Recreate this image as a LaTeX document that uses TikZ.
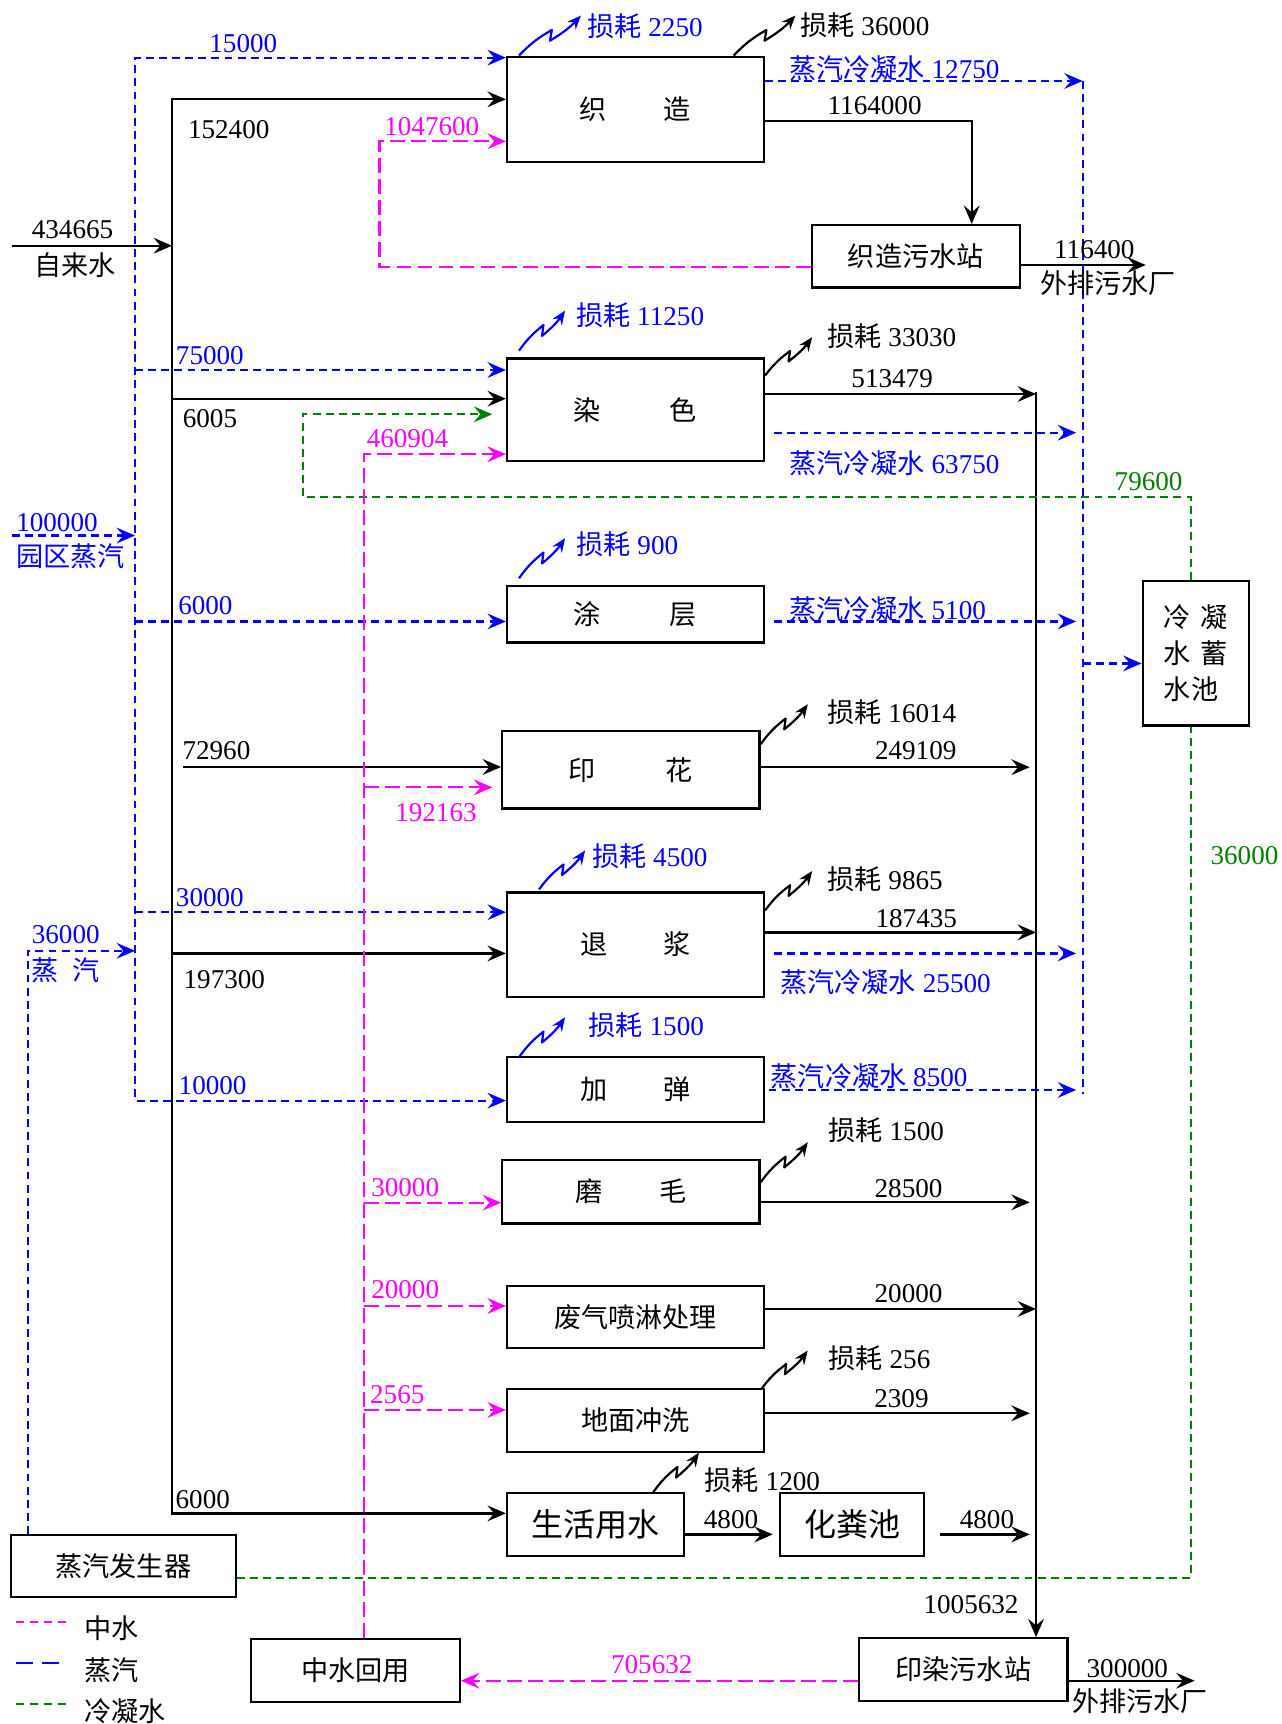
\documentclass[tikz,border=0pt]{standalone}
\usepackage{fontspec}
\setmainfont{Liberation Serif}
\newfontfamily\cjk{Noto Sans CJK SC}
\usetikzlibrary{arrows.meta,calc}

\newcommand{\zh}[1]{{\cjk #1}}
\definecolor{steam}{RGB}{0,0,255}
\definecolor{reuse}{RGB}{255,0,255}
\definecolor{cond}{RGB}{0,128,0}

\tikzset{
  >={Stealth[length=10.5pt,width=9pt,inset=3.8pt]},
  box/.style={draw, line width=1.3pt, inner sep=0pt},
  sz/.style 2 args={minimum width=#1*0.022cm, minimum height=#2*0.022cm},
  lbl/.style={inner sep=0pt},
  flow/.style={line width=1.3pt, ->},
  flowline/.style={line width=1.3pt},
  steamline/.style={steam, line width=1.25pt, dash pattern=on 4.5pt off 3pt},
  reuseline/.style={reuse, line width=1.25pt, dash pattern=on 8.5pt off 3.5pt},
  condline/.style={cond, line width=1.25pt, dash pattern=on 4.5pt off 3pt},
  losstip/.style={line width=1.25pt, line join=round, -{Stealth[length=8pt,width=6.5pt,inset=2.8pt]}},
}

% loss arrow: start, dx, dy, colour
\newcommand{\sunhao}[4]{%
  \draw[losstip, #4] #1 to[bend left=8] ++({0.53*(#2)},{0.64*(#3)}) -- ++({-0.03*(#2)},{-0.27*(#3)}) to[bend right=8] ++({0.5*(#2)},{0.63*(#3)});}

\begin{document}
\begin{tikzpicture}[x=0.022cm, y=-0.022cm, font=\fontsize{15.5pt}{19pt}\selectfont]
\useasboundingbox (0,0) rectangle (1169.7,1573);

% process boxes
\node[box, sz={234.4}{96.4}] (zz) at (579.8,99.9) {\zh{织\hspace{2.1em}造}};
\node[box, sz={189.7}{56.9}] (zzws) at (835.5,233.8) {\zh{织造污水站}\hspace{1em}};
\node[box, sz={234.4}{93.6}] (rs) at (579.8,373.8) {\zh{染\hspace{2.54em}色}};
\node[box, sz={234.4}{51.5}] (tc) at (579.8,560.4) {\zh{涂\hspace{2.54em}层}};
\node[box, sz={234.8}{70.4}] (yh) at (575.6,702.4) {\zh{印\hspace{2.56em}花}};
\node[box, sz={234.4}{95.1}] (tj) at (579.8,861.8) {\zh{退\hspace{2.08em}浆}\hspace{0.7em}};
\node[box, sz={234.4}{59.3}] (jt) at (579.8,993.8) {\zh{加\hspace{2.08em}弹}\hspace{0.7em}};
\node[box, sz={234.8}{57.8}] (mm) at (575.6,1087.3) {\zh{磨\hspace{2.08em}毛}\hspace{0.7em}};
\node[box, sz={234.4}{56.2}] (fq) at (579.8,1201.5) {\zh{废气喷淋处理}\hspace{0.75em}};
\node[box, sz={234.4}{57.2}] (dm) at (579.8,1296.2) {\zh{地面冲洗}\hspace{0.7em}};
\node[box, sz={161.4}{57.2}, font=\fontsize{18.3pt}{22pt}\selectfont] (sh) at (543.3,1391.1) {\zh{生活用水}};
\node[box, sz={131.6}{57.7}, font=\fontsize{18.3pt}{22pt}\selectfont] (hf) at (777.5,1390.9) {\zh{化粪池}};
\node[box, sz={204.8}{56.2}] (qf) at (112.6,1428.7) {\zh{蒸汽发生器}\hspace{0.55em}};
\node[box, sz={190.2}{56.9}] (zshy) at (324.4,1524.2) {\zh{中水回用}\hspace{1em}};
\node[box, sz={190}{57.2}] (ydws) at (879,1523.4) {\zh{印染污水站}\hspace{1em}};
\node[box, sz={97}{132}, align=left, font=\fontsize{15.5pt}{20.6pt}\selectfont] (lnc) at (1091.1,596)
  {\zh{冷\hspace{0.35em}凝}\\\zh{水\hspace{0.35em}蓄}\\\zh{水池}};

% tap water
\coordinate (tt) at (157,90.6);
\coordinate (tb) at (157,1380.8);
\coordinate (zls) at (11,224.2);
\coordinate (in72960) at (167,699.8);
\draw[flowline, <->] (zz.west |- tt) -- (tt) -- (tb) -- (sh.west |- tb);
\draw[flow] (zls) -- (tt |- zls);
\draw[flow] (tt |- 0,363.8) -- (rs.west |- 0,363.8);
\draw[flow] (tt |- 0,869.9) -- (tj.west |- 0,869.9);
\draw[flow] (in72960) -- (yh.west |- in72960);

% waste water
\coordinate (k1) at (886.6,110.1);
\coordinate (out1) at (1045.4,241.8);
\coordinate (ct) at (945.3,357.4);
\coordinate (hfo) at (858,1400);
\coordinate (out2) at (1090,1533.5);
\draw[flow] (zz.east |- k1) -- (k1) -- (k1 |- zzws.north);
\draw[flow] (zzws.east |- out1) -- (out1);
\draw[flow] (ct) -- (ct |- ydws.north);
\draw[flow] (rs.east |- 0,359.5) -- (ct |- 0,359.5);
\draw[flow, shorten >=3.6pt] (yh.east |- 0,700) -- (ct |- 0,700);
\draw[flow] (tj.east |- 0,850.7) -- (ct |- 0,850.7);
\draw[flow, shorten >=3.6pt] (mm.east |- 0,1097) -- (ct |- 0,1097);
\draw[flow] (fq.east |- 0,1194.3) -- (ct |- 0,1194.3);
\draw[flow, shorten >=3.6pt] (dm.east |- 0,1289.5) -- (ct |- 0,1289.5);
\draw[flow, shorten >=3.5pt] (sh.east |- hfo) -- (hf.west |- hfo);
\draw[flow, shorten >=3.6pt] (hfo) -- (ct |- hfo);
\draw[flow] (ydws.east |- out2) -- (out2);

% steam
\coordinate (sv) at (123.2,52.6);
\coordinate (svb) at (123.2,1004.2);
\coordinate (yq) at (11,488.6);
\coordinate (gq) at (25.3,867.5);
\draw[steamline, <->] (zz.west |- sv) -- (sv) -- (svb) -- (jt.west |- svb);
\draw[steamline, ->] (sv |- 0,337.6) -- (rs.west |- 0,337.6);
\draw[steamline, ->] (sv |- 0,567) -- (tc.west |- 0,567);
\draw[steamline, ->] (sv |- 0,832.3) -- (tj.west |- 0,832.3);
\draw[steamline, ->] (yq) -- (sv |- yq);
\draw[steamline, ->] (gq |- qf.north) -- (gq) -- (sv |- gq);

% steam condensate
\coordinate (bv) at (987.8,73.9);
\coordinate (bvb) at (987.8,998.2);
\draw[steamline] (bv) -- (bvb);
\draw[steamline, ->] (zz.east |- bv) -- (bv);
\draw[steamline, ->, shorten <=5.2pt, shorten >=3.7pt] (rs.east |- 0,394.8) -- (bv |- 0,394.8);
\draw[steamline, ->, shorten <=5.2pt, shorten >=3.7pt] (tc.east |- 0,567) -- (bv |- 0,567);
\draw[steamline, ->, shorten <=5.2pt, shorten >=3.7pt] (tj.east |- 0,869.9) -- (bv |- 0,869.9);
\draw[steamline, ->, shorten <=2pt, shorten >=3.7pt] (jt.east |- 0,994.5) -- (bv |- 0,994.5);
\draw[steamline, ->] (bv |- 0,605.3) -- (lnc.west |- 0,605.3);

% condensate water
\coordinate (gv) at (1086.5,453.8);
\coordinate (gl) at (276.2,453.8);
\coordinate (gu) at (276.2,378);
\coordinate (gb) at (1086.5,1439.5);
\draw[condline, ->, shorten >=7.8pt] (gv |- lnc.north) -- (gv) -- (gl) -- (gu) -- (rs.west |- gu);
\draw[condline] (qf.east |- gb) -- (gb) -- (gb |- lnc.south);

% reused water
\coordinate (mt) at (332,414.4);
\coordinate (mz) at (346.2,128.9);
\draw[reuseline, ->] (zshy.north -| mt) -- (mt) -- (rs.west |- mt);
\draw[reuseline, ->, shorten >=5pt] (mt |- 0,718.4) -- (yh.west |- 0,718.4);
\draw[reuseline, ->] (mt |- 0,1097.3) -- (mm.west |- 0,1097.3);
\draw[reuseline, ->] (mt |- 0,1191.6) -- (fq.west |- 0,1191.6);
\draw[reuseline, ->] (mt |- 0,1286.5) -- (dm.west |- 0,1286.5);
\draw[reuseline, ->] (ydws.west |- 0,1533.5) -- (zshy.east |- 0,1533.5);
\draw[reuseline, ->] (zzws.west |- 0,243.3) -- (mz |- 0,243.3) -- (mz) -- (zz.west |- mz);

% losses
\sunhao{($(zz.north west)+(12,0)$)}{56.5}{-36.5}{steam}
\sunhao{($(zz.north east)+(-28.6,0)$)}{56.3}{-36.5}{black}
\sunhao{($(rs.north west)+(12,-6)$)}{42}{-36.5}{steam}
\sunhao{($(rs.north east)+(0,16.7)$)}{43}{-35}{black}
\sunhao{($(tc.north west)+(12,-6)$)}{42}{-36.6}{steam}
\sunhao{($(yh.north east)+(0,12.8)$)}{43}{-36.5}{black}
\sunhao{($(tj.north west)+(30.3,-1.7)$)}{42}{-35.6}{steam}
\sunhao{($(tj.north east)+(0,17.5)$)}{43}{-36}{black}
\sunhao{($(jt.north west)+(12,1.5)$)}{42}{-36.5}{steam}
\sunhao{($(mm.north east)+(0,21.3)$)}{43}{-36.5}{black}
\sunhao{($(dm.north east)+(-2.8,0)$)}{41.7}{-34.3}{black}
\sunhao{($(sh.north east)+(-29,0)$)}{41.7}{-36}{black}

\node[lbl, anchor=west, text=steam] (s2250) at (535.6,24.3) {\zh{损耗} 2250};
\node[lbl, anchor=west] (s36000) at (730,22.8) {\zh{损耗} 36000};
\node[lbl, anchor=west, text=steam] (s11250) at (525.4,287.4) {\zh{损耗} 11250};
\node[lbl, anchor=west] (s33030) at (754.6,307.2) {\zh{损耗} 33030};
\node[lbl, anchor=west, text=steam] (s900) at (525.6,496.6) {\zh{损耗} 900};
\node[lbl, anchor=west] (s16014) at (754.6,649.8) {\zh{损耗} 16014};
\node[lbl, anchor=west, text=steam] (s4500) at (540,781) {\zh{损耗} 4500};
\node[lbl, anchor=west] (s9865) at (754.6,802) {\zh{损耗} 9865};
\node[lbl, anchor=west, text=steam] (s1500a) at (536.7,935.2) {\zh{损耗} 1500};
\node[lbl, anchor=west] (s1500b) at (755.7,1031) {\zh{损耗} 1500};
\node[lbl, anchor=west] (s256) at (755.7,1239.4) {\zh{损耗} 256};
\node[lbl, anchor=west] (s1200) at (642.6,1350.4) {\zh{损耗} 1200};

% flow values
\node[lbl, text=steam] (q15000) at (222,39.5) {15000};
\node[lbl] (w152400) at (208.7,118) {152400};
\node[lbl, text=reuse] (r1047600) at (394,115.6) {1047600};
\node[lbl] (w434665) at (66.2,209.9) {434665};
\node[lbl] (zlst) at (68.2,241.8) {\zh{自来水}};
\node[lbl] (w1164000) at (798,96.7) {1164000};
\node[lbl, text=steam] (n12750) at (816,62.3) {\zh{蒸汽冷凝水} 12750};
\node[lbl] (w116400) at (998.5,228.1) {116400};
\node[lbl] (out1t) at (1011,258.5) {\zh{外排污水厂}};
\node[lbl, text=steam] (q75000) at (191.5,324.8) {75000};
\node[lbl] (w6005) at (191.6,381.7) {6005};
\node[lbl] (w513479) at (814,345.2) {513479};
\node[lbl, text=reuse] (r460904) at (371.8,399.8) {460904};
\node[lbl, text=steam] (n63750) at (816,422.4) {\zh{蒸汽冷凝水} 63750};
\node[lbl, text=cond] (c79600) at (1048,439.8) {79600};
\node[lbl, text=steam] (q100000) at (52,477) {100000};
\node[lbl, text=steam] (yqt) at (64.4,507.8) {\zh{园区蒸汽}};
\node[lbl, text=steam] (q6000) at (187.4,553) {6000};
\node[lbl, text=steam] (n5100) at (809.8,555.8) {\zh{蒸汽冷凝水} 5100};
\node[lbl] (w72960) at (197.5,685.3) {72960};
\node[lbl] (w249109) at (835.5,685.3) {249109};
\node[lbl, text=reuse] (r192163) at (397.8,741.8) {192163};
\node[lbl, text=cond] (c36000) at (1135.5,781) {36000};
\node[lbl, text=steam] (q30000) at (191.5,819.4) {30000};
\node[lbl] (w187435) at (836,837.9) {187435};
\node[lbl, text=steam] (q36000) at (60,852.6) {36000};
\node[lbl, text=steam] (gqt) at (59.9,885.6) {\zh{蒸\hspace{0.5em}汽}};
\node[lbl] (w197300) at (204.7,894.2) {197300};
\node[lbl, text=steam] (n25500) at (808,896) {\zh{蒸汽冷凝水} 25500};
\node[lbl, text=steam] (q10000) at (194,990.9) {10000};
\node[lbl, text=steam] (n8500) at (793,982.4) {\zh{蒸汽冷凝水} 8500};
\node[lbl, text=reuse] (r30000) at (369.7,1083.3) {30000};
\node[lbl] (w28500) at (829,1084.2) {28500};
\node[lbl, text=reuse] (r20000) at (369.7,1177) {20000};
\node[lbl] (w20000) at (829,1180) {20000};
\node[lbl, text=reuse] (r2565) at (362.5,1272.8) {2565};
\node[lbl] (w2309) at (822.5,1275.8) {2309};
\node[lbl] (w6000) at (185,1368) {6000};
\node[lbl] (w4800a) at (667,1386.9) {4800};
\node[lbl] (w4800b) at (900.5,1386.9) {4800};
\node[lbl] (w1005632) at (886,1464.4) {1005632};
\node[lbl, text=reuse] (r705632) at (594.7,1519) {705632};
\node[lbl] (w300000) at (1028.6,1522.2) {300000};
\node[lbl] (out2t) at (1040.3,1552.6) {\zh{外排污水厂}};

% legend
\draw[reuse, line width=1.25pt, dash pattern=on 5pt off 3pt] (14.3,1479.6) -- (60.3,1479.6);
\draw[steam, line width=1.25pt, dash pattern=on 10pt off 5pt] (14.3,1517) -- (60.3,1517);
\draw[cond, line width=1.25pt, dash pattern=on 5pt off 3pt] (14.3,1555) -- (60.3,1555);
\node[lbl, anchor=west] (lg1) at (76.6,1485.7) {\zh{中水}};
\node[lbl, anchor=west] (lg2) at (76.6,1523.7) {\zh{蒸汽}};
\node[lbl, anchor=west] (lg3) at (76.6,1561.7) {\zh{冷凝水}};
\end{tikzpicture}
\end{document}
